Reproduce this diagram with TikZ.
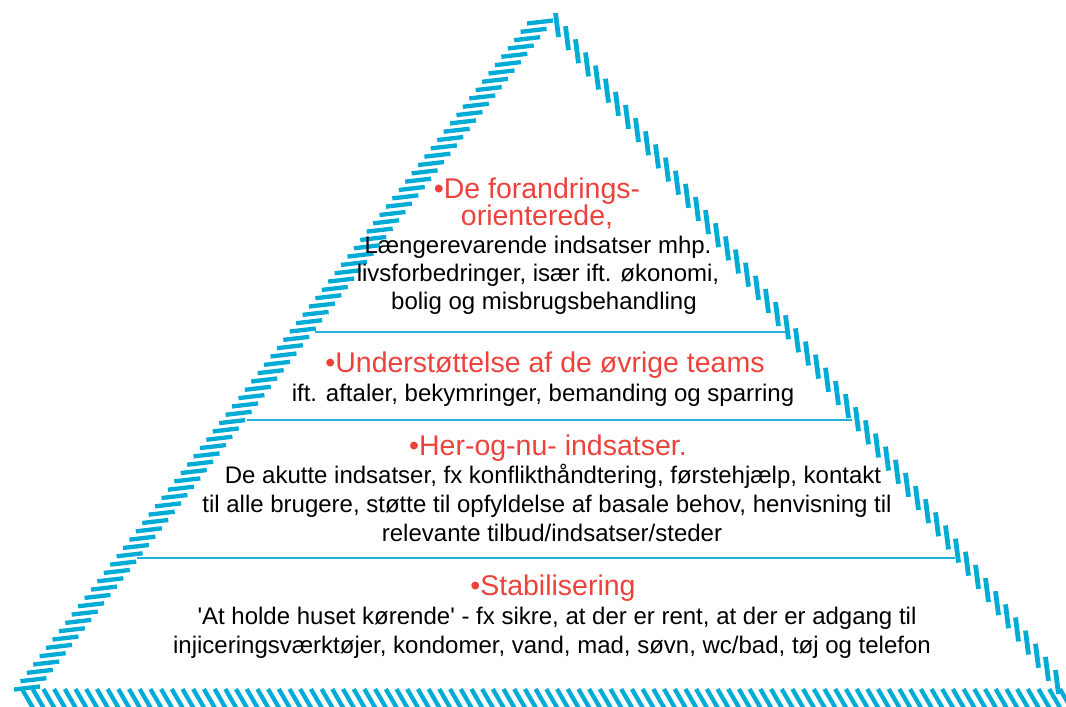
\documentclass[tikz,border=0pt]{standalone}
\usepackage{fontspec}
\setmainfont{Liberation Sans}
\definecolor{hatchblue}{RGB}{0,172,214}
\definecolor{sepblue}{RGB}{30,178,218}
\definecolor{titlered}{RGB}{236,66,60}
\begin{document}
\begin{tikzpicture}[x=1pt,y=-1pt,
  bar/.style={draw=hatchblue,line width=4.3pt},
  rbar/.style={draw=hatchblue,line width=4.8pt},
  sep/.style={draw=sepblue,line width=1.8pt},
  ttl/.style={anchor=base,text=titlered,font=\fontsize{28.5}{30}\selectfont,inner sep=0pt},
  body/.style={anchor=base,text=black,font=\fontsize{24}{28}\selectfont,inner sep=0pt}]
\useasboundingbox (0,0) rectangle (1066,707);
\clip (0,0) rectangle (1066,707);
% left edge hatching
\foreach \i in {0,...,80}{
  \pgfmathsetmacro\cx{27+\i/80*513}
  \pgfmathsetmacro\cy{688-\i/80*666}
  \draw[bar] (\cx-13,\cy+1.5) -- (\cx+13,\cy-1.5);
}
% right edge hatching
\foreach \i in {0,...,50}{
  \pgfmathsetmacro\cx{557+\i/50*500}
  \pgfmathsetmacro\cy{25+\i/50*657}
  \draw[rbar] (\cx-1.5,\cy-12) -- (\cx+1.5,\cy+12);
}
% bottom hatching
\foreach \i in {0,...,97}{
  \draw[bar] (22+\i*10.7,689) -- (33+\i*10.7,708);
}
% separators
\coordinate (s1l) at (315,332); \coordinate (s1r) at (785,332);
\coordinate (s2l) at (247,420); \coordinate (s2r) at (852,420);
\coordinate (s3l) at (137,558); \coordinate (s3r) at (955,558);
\draw[sep] (s1l) -- (s1r);
\draw[sep] (s2l) -- (s2r);
\draw[sep] (s3l) -- (s3r);
% tier 1
\node[ttl] (t1a) at (537,198) {•De forandrings-};
\node[ttl] (t1b) at (537,225) {orienterede,};
\node[body] (b1a) at (538,253) {Længerevarende indsatser mhp.};
\node[body] (b1b) at (538,281) {livsforbedringer, især ift. økonomi,};
\node[body] (b1c) at (544,309) {bolig og misbrugsbehandling};
% tier 2
\node[ttl] (t2) at (545,372) {•Understøttelse af de øvrige teams};
\node[body] (b2) at (543,401) {ift. aftaler, bekymringer, bemanding og sparring};
% tier 3
\node[ttl] (t3) at (548,455) {•Her-og-nu- indsatser.};
\node[body] (b3a) at (553,483) {De akutte indsatser, fx konflikthåndtering, førstehjælp, kontakt};
\node[body] (b3b) at (547,512) {til alle brugere, støtte til opfyldelse af basale behov, henvisning til};
\node[body] (b3c) at (552,541) {relevante tilbud/indsatser/steder};
% tier 4
\node[ttl] (t4) at (553,595) {•Stabilisering};
\node[body] (b4a) at (557,624) {\textquotesingle At holde huset kørende\textquotesingle{} - fx sikre, at der er rent, at der er adgang til};
\node[body] (b4b) at (552,653) {injiceringsværktøjer, kondomer, vand, mad, søvn, wc/bad, tøj og telefon};
\end{tikzpicture}
\end{document}
